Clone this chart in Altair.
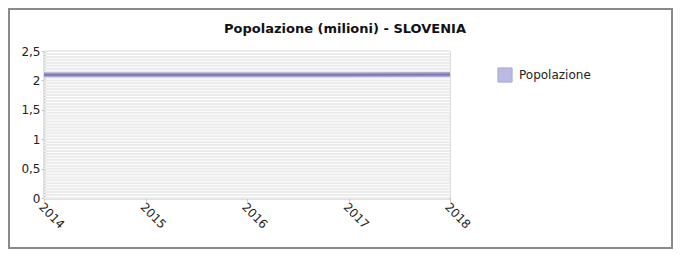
import altair as alt
import pandas as pd

years = [2014, 2015, 2016, 2017, 2018]
popolazione = [2.095, 2.096, 2.097, 2.098, 2.099]
series_name = "Popolazione"
title_text = "Popolazione (milioni) - SLOVENIA"
y_ticks = [0, 0.5, 1, 1.5, 2, 2.5]
grid_values = [round(i * 0.05, 2) for i in range(51)]

df = pd.DataFrame({"anno": years, "valore": popolazione, "serie": series_name})
grid_df = pd.DataFrame({"g": grid_values})
title_df = pd.DataFrame({"t": [title_text]})

FONT = "DejaVu Sans"

x_scale = alt.Scale(domain=[2014, 2018], nice=False, zero=False)
y_scale = alt.Scale(domain=[0, 2.5], nice=False)

y_axis = alt.Axis(values=y_ticks, title=None, grid=False, labelOverlap=False,
                  labelExpr="replace(toString(datum.value), '.', ',')",
                  domainColor="#c4c4c4", domainWidth=2, tickColor="#c4c4c4",
                  tickSize=3, labelPadding=1, labelFontSize=12, labelFont=FONT,
                  labelColor="#222")
x_axis = alt.Axis(values=years, format="d", labelAngle=45, labelAlign="left",
                  labelBaseline="top", title=None, grid=False, labelOverlap=False,
                  domainColor="#c4c4c4", domainWidth=2, tickColor="#c4c4c4",
                  tickSize=3, labelPadding=0, labelFontSize=12, labelFont=FONT,
                  labelColor="#222")

grid = alt.Chart(grid_df).mark_rule(color="#ebebeb", strokeWidth=2).encode(
    y=alt.Y("g:Q", scale=y_scale, axis=y_axis)
)

frame = alt.Chart(grid_df).mark_rect(fill=None, stroke="#8a8a8a", strokeWidth=2).encode(
    x=alt.value(-35), x2=alt.value(628), y=alt.value(-42), y2=alt.value(197)
)

title = alt.Chart(title_df).mark_text(font=FONT, fontSize=13, fontWeight="bold",
                                      color="#111", align="center", baseline="alphabetic").encode(
    x=alt.value(301), y=alt.value(-18), text="t:N"
)

line_outer = alt.Chart(df).mark_line(strokeWidth=5, opacity=0.85).encode(
    x=alt.X("anno:Q", scale=x_scale, axis=x_axis),
    y=alt.Y("valore:Q", scale=y_scale, axis=y_axis),
    color=alt.Color("serie:N", scale=alt.Scale(range=["#9b9bcc"]),
                    legend=alt.Legend(title=None, orient="none", legendX=453, legendY=16,
                                      symbolType="square", symbolSize=200,
                                      symbolFillColor="#aeaede", symbolStrokeColor="#999999",
                                      symbolStrokeWidth=1, labelFont=FONT, labelFontSize=12,
                                      labelColor="#222", padding=0, labelOffset=6)),
)

line_inner = alt.Chart(df).mark_line(strokeWidth=2, color="#7a7aab").encode(
    x=alt.X("anno:Q", scale=x_scale, axis=x_axis),
    y=alt.Y("valore:Q", scale=y_scale, axis=y_axis),
)

chart = alt.layer(frame, grid, line_outer, line_inner, title).properties(
    width=406, height=147,
    padding={"left": 36, "top": 43, "right": 223, "bottom": 51},
    autosize=alt.AutoSizeParams(type="none"),
).configure_view(stroke=None).configure(background="white")

chart.save("out.html", embed_options={"renderer": "svg", "actions": False})
